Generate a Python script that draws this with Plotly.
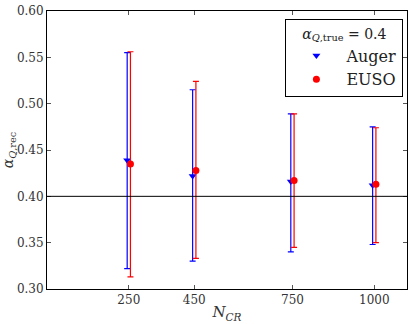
import plotly.graph_objects as go

# Number of cosmic rays (categories on the x axis)
n_cr = [250, 450, 750, 1000]

# Auger: reconstructed alpha, upper and lower error-bar ends
auger_val = [0.439, 0.422, 0.416, 0.412]
auger_hi = [0.555, 0.515, 0.489, 0.475]
auger_lo = [0.322, 0.330, 0.340, 0.348]

# EUSO: reconstructed alpha, upper and lower error-bar ends
euso_val = [0.435, 0.428, 0.417, 0.413]
euso_hi = [0.556, 0.524, 0.489, 0.474]
euso_lo = [0.313, 0.333, 0.345, 0.350]

alpha_true = 0.4
y_ticks = [0.30, 0.35, 0.40, 0.45, 0.50, 0.55, 0.60]

# small horizontal shift so both experiments are visible side by side
shift = 5

FONT = "DejaVu Serif, Liberation Serif, serif"

fig = go.Figure()

fig.add_trace(go.Scatter(
    x=[n - shift for n in n_cr],
    y=auger_val,
    mode="markers",
    name="Auger",
    marker=dict(symbol="triangle-down", color="blue", size=7),
    error_y=dict(
        type="data", symmetric=False,
        array=[h - v for h, v in zip(auger_hi, auger_val)],
        arrayminus=[v - l for v, l in zip(auger_val, auger_lo)],
        color="blue", thickness=1.2, width=3,
    ),
))

fig.add_trace(go.Scatter(
    x=[n + shift for n in n_cr],
    y=euso_val,
    mode="markers",
    name="EUSO",
    marker=dict(symbol="circle", color="red", size=7),
    error_y=dict(
        type="data", symmetric=False,
        array=[h - v for h, v in zip(euso_hi, euso_val)],
        arrayminus=[v - l for v, l in zip(euso_val, euso_lo)],
        color="red", thickness=1.2, width=3,
    ),
))

fig.add_hline(y=alpha_true, line=dict(color="black", width=1))

fig.update_xaxes(
    range=[0, 1100],
    tickvals=n_cr,
    ticktext=[str(n) for n in n_cr],
    ticks="inside", ticklen=4, tickcolor="#555",
    showline=True, linecolor="black", linewidth=1, mirror="ticks",
    showgrid=False, zeroline=False, automargin=False,
    title=dict(text="<i>N</i><sub><i>CR</i></sub>", standoff=0, font=dict(size=15)),
)
fig.update_yaxes(
    range=[0.30, 0.60],
    tickvals=y_ticks,
    ticktext=[f"{v:.2f}" for v in y_ticks],
    ticks="inside", ticklen=4, tickcolor="#555",
    showline=True, linecolor="black", linewidth=1, mirror="ticks",
    showgrid=False, zeroline=False, automargin=False,
    title=dict(text="<i>α</i><sub><i>Q</i>,rec</sub>", standoff=0, font=dict(size=14)),
)

fig.update_layout(
    width=413, height=324,
    margin=dict(l=47, r=6, t=11, b=35),
    plot_bgcolor="white",
    paper_bgcolor="white",
    font=dict(family=FONT, size=12, color="#333"),
    showlegend=True,
    legend=dict(
        x=0.99, y=0.97, xanchor="right", yanchor="top",
        bordercolor="black", borderwidth=1,
        bgcolor="white",
        font=dict(size=16, color="#222"),
        title=dict(text="<i>α</i><sub><i>Q</i>,true</sub> = 0.4",
                   font=dict(size=14), side="top center"),
        itemwidth=50,
    ),
)

# drop the default page margin so the figure sits at the window's corner
fig.write_html(
    "out.html",
    config={"displayModeBar": False},
    post_script="document.body.style.margin='0';",
)
